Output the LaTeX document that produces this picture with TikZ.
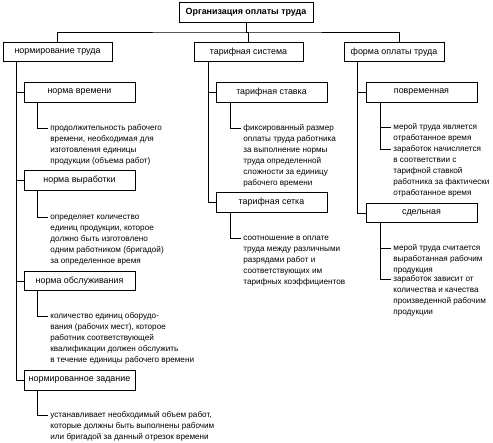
\documentclass[tikz,border=0pt]{standalone}
\usepackage{fontspec}
\setmainfont{Liberation Sans}
\begin{document}
\begin{tikzpicture}[x=1pt,y=-1pt,
  line width=0.8pt,
  box/.style={draw, inner sep=0pt, minimum height=19.5pt, font=\fontsize{8.9}{10}\selectfont},
  sub/.style={box, minimum width=111pt},
  desc/.style={anchor=north west, inner sep=0pt, align=left, font=\fontsize{8.15}{11}\selectfont},
  con/.style={line width=0.8pt}]
\useasboundingbox (0,0) rectangle (493,443);
% title
\node[box, minimum width=134pt, font=\bfseries\fontsize{8.9}{10}\selectfont] (t) at (246,12.5) {Организация оплаты труда};
% level 1
\node[box, minimum width=109pt] (n1) at (57.5,52) {нормирование труда};
\node[box, minimum width=109pt] (n2) at (248.5,52) {тарифная система};
\node[box, minimum width=100pt] (n3) at (394,52) {форма оплаты труда};
\coordinate (hb) at (246,32);
\draw[con] (t.south) -- (hb);
\draw[con] ([xshift=-0.5pt]n1.north) |- (hb) -| ([xshift=5pt]n3.north);
\draw[con] (hb) -| (n2.north);
% left column
\node[sub] (a1) at (79.5,92.5) {норма времени};
\node[sub] (a2) at (79.5,180.5) {норма выработки};
\node[sub] (a3) at (79.5,281) {норма обслуживания};
\node[sub] (a4) at (79.5,380.5) {нормированное задание};
\coordinate (lt) at (16,62);
\draw[con] (n1.south -| lt) |- (a4.west);
\draw[con] (a1.west -| lt) -- (a1.west);
\draw[con] (a2.west -| lt) -- (a2.west);
\draw[con] (a3.west -| lt) -- (a3.west);
\coordinate (ca1) at (48,128);
\coordinate (ca2) at (48,217);
\coordinate (ca3) at (48,316);
\coordinate (ca4) at (48,415);
\node[desc] (da1) at (50,123.5) {\rule{0pt}{7pt}продолжительность рабочего\\времени, необходимая для\\изготовления единицы\\продукции (объема работ)};
\node[desc] (da2) at (50,212.5) {\rule{0pt}{7pt}определяет количество\\единиц продукции, которое\\должно быть изготовлено\\одним работником (бригадой)\\за определенное время};
\node[desc] (da3) at (50,311.5) {\rule{0pt}{7pt}количество единиц оборудо-\\вания (рабочих мест), которое\\работник соответствующей\\квалификации должен обслужить\\в течение единицы рабочего времени};
\node[desc] (da4) at (50,410.5) {\rule{0pt}{7pt}устанавливает необходимый объем работ,\\которые должны быть выполнены рабочим\\или бригадой за данный отрезок времени};
\draw[con] ([xshift=14pt]a1.south west) |- (ca1);
\draw[con] ([xshift=14pt]a2.south west) |- (ca2);
\draw[con] ([xshift=14pt]a3.south west) |- (ca3);
\draw[con] ([xshift=14pt]a4.south west) |- (ca4);
% middle column
\node[sub] (b1) at (271.5,92.5) {тарифная ставка};
\node[sub] (b2) at (271.5,202.5) {тарифная сетка};
\coordinate (mt) at (208,62);
\draw[con] (n2.south -| mt) |- (b2.west);
\draw[con] (b1.west -| mt) -- (b1.west);
\coordinate (cb1) at (241,128);
\coordinate (cb2) at (241,238);
\node[desc] (db1) at (243,123.5) {\rule{0pt}{7pt}фиксированный размер\\оплаты труда работника\\за выполнение нормы\\труда определенной\\сложности за единицу\\рабочего времени};
\node[desc] (db2) at (243,233.5) {\rule{0pt}{7pt}соотношение в оплате\\труда между различными\\разрядами работ и\\соответствующих им\\тарифных коэффициентов};
\draw[con] ([xshift=15pt]b1.south west) |- (cb1);
\draw[con] ([xshift=15pt]b2.south west) |- (cb2);
% right column
\node[sub] (c1) at (421.5,92.5) {повременная};
\node[sub] (c2) at (421.5,213) {сдельная};
\coordinate (rt) at (357,62);
\draw[con] (n3.south -| rt) |- (c2.west);
\draw[con] (c1.west -| rt) -- (c1.west);
\coordinate (cc1) at (391,127);
\coordinate (cc2) at (391,149);
\coordinate (cc3) at (391,248);
\coordinate (cc4) at (391,279);
\node[desc] (dc1) at (393,122.5) {\rule{0pt}{7pt}мерой труда является\\отработанное время};
\node[desc] (dc2) at (393,144.5) {\rule{0pt}{7pt}заработок начисляется\\в соответствии с\\тарифной ставкой\\работника за фактически\\отработанное время};
\node[desc] (dc3) at (393,243.5) {\rule{0pt}{7pt}мерой труда считается\\выработанная рабочим\\продукция};
\node[desc] (dc4) at (393,274.5) {\rule{0pt}{7pt}заработок зависит от\\количества и качества\\произведенной рабочим\\продукции};
\draw[con] ([xshift=15pt]c1.south west) |- (cc2);
\draw[con] (cc1 -| cc2) ++(-10,0) -- (cc1);
\draw[con] ([xshift=15pt]c2.south west) |- (cc4);
\draw[con] (cc3) ++(-10,0) -- (cc3);
\end{tikzpicture}
\end{document}
